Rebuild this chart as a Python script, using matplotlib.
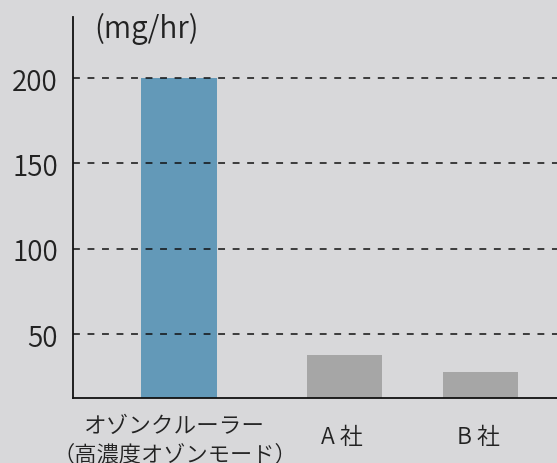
import matplotlib
matplotlib.use("Agg")
import matplotlib.pyplot as plt

plt.rcParams['font.family'] = ['Noto Sans CJK JP', 'DejaVu Sans']

# data
categories = ['オゾンクルーラー\n（高濃度オゾンモード）', 'A 社', 'B 社']
values = [200, 38, 28]
colors = ['#6399b8', '#a6a6a6', '#a6a6a6']
yticks = [50, 100, 150, 200]
unit_label = '(mg/hr)'

# bar positions (bars are not evenly spaced in the original)
xpos = [2.195, 5.612, 8.43]

bg = '#d8d8da'
txt = '#222222'
fig = plt.figure(figsize=(5.57, 4.64), dpi=100, facecolor=bg)
ax = fig.add_axes([0.1305, 0.140, 0.8695, 0.821], facecolor=bg)

ax.bar(xpos, values, width=1.55, color=colors, zorder=2)

for v in yticks:
    ax.axhline(v, color='#111111', lw=1.1, ls=(0, (4.5, 5)), zorder=3)

ax.set_xlim(0, 10)
ax.set_ylim(12.5, 235.7)
ax.set_yticks(yticks)
ax.tick_params(axis='y', length=0, pad=10.5, labelsize=20, labelcolor=txt)
for t in ax.get_yticklabels():
    t.set_fontweight(350)
ax.set_xticks([])

for s in ['top', 'right']:
    ax.spines[s].set_visible(False)
for s in ['left', 'bottom']:
    ax.spines[s].set_color('#111111')
    ax.spines[s].set_linewidth(1.3)

# category labels under the bars
for x, lab in zip(xpos, categories):
    lines = lab.split('\n')
    if len(lines) == 1:
        ax.annotate(lab, xy=(x, 0), xycoords=('data', 'axes fraction'),
                    xytext=(-2, -27.4), textcoords='offset points',
                    ha='center', va='center', fontsize=16.5, fontweight=350, color=txt)
    else:
        ax.annotate(lines[0], xy=(x, 0), xycoords=('data', 'axes fraction'),
                    xytext=(-3.5, -20), textcoords='offset points',
                    ha='center', va='center', fontsize=16.3, fontweight=350, color=txt)
        ax.annotate(lines[1], xy=(x, 0), xycoords=('data', 'axes fraction'),
                    xytext=(-3, -40.8), textcoords='offset points',
                    ha='center', va='center', fontsize=16, fontweight=350, color=txt)

fig.text(94 / 557, 1 - 29 / 464, unit_label, ha='left', va='center',
         fontsize=21.5, fontweight=350, color=txt)

fig.savefig('out.png', dpi=100, facecolor=bg)
